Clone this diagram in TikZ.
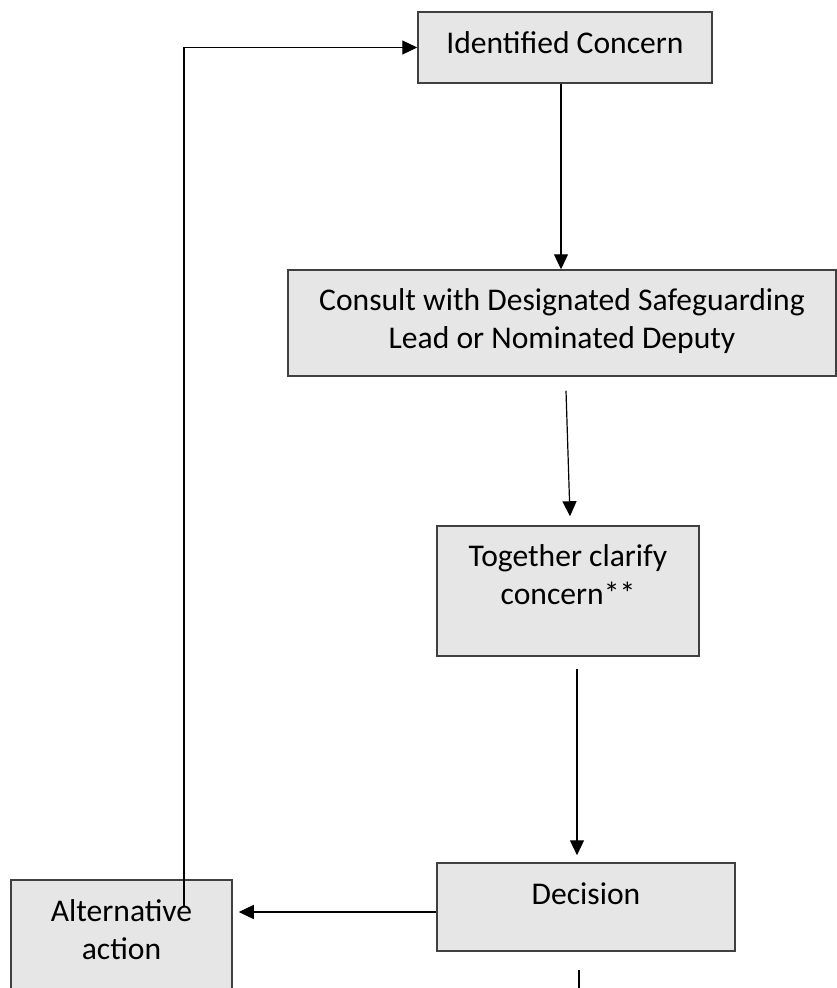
\documentclass[tikz,border=0pt]{standalone}
\usepackage{fontspec}
\setmainfont{Carlito}
\usetikzlibrary{arrows.meta}

\definecolor{boxfill}{RGB}{230,230,230}
\definecolor{boxline}{RGB}{64,64,64}

\tikzset{
  flowbox/.style = {draw = boxline, fill = boxfill, line width = 1.5pt, inner sep = 0pt},
  flowtext/.style = {font = \fontsize{31.6}{38}\selectfont, align = center, inner sep = 0pt},
  flowarrow/.style = {line width = 1.2pt, -{Triangle[length = 15pt, width = 14pt]}}
}

\begin{document}
\begin{tikzpicture}[x = 1pt, y = -1pt]
	\clip (0,0) rectangle (837,988);
	% boxes
	\node [flowbox, minimum width = 294pt, minimum height = 71pt] (idc) at (565,47.5) {};
	\node [flowbox, minimum width = 548pt, minimum height = 106pt] (cons) at (562,323) {};
	\node [flowbox, minimum width = 262pt, minimum height = 130pt] (tog) at (568,591) {};
	\node [flowbox, minimum width = 298pt, minimum height = 88pt] (dec) at (586,907) {};
	\node [flowbox, minimum width = 221pt, minimum height = 130pt] (alt) at (121.5,945) {};
	% texts
	\node [flowtext] (idctext) at (565,43) {Identified Concern};
	\node [flowtext] (constext) at (562,321) {Consult with Designated Safeguarding\\Lead or Nominated Deputy};
	\node [flowtext] (togtext) at (568,575) {Together clarify\\concern**};
	\node [flowtext] (dectext) at (586,894) {Decision};
	\node [flowtext] (alttext) at (121.5,930) {Alternative\\action};
	% arrows
	\draw [flowarrow] ([xshift = -4pt]idc.south) -- ([xshift = -1pt]cons.north);
	\draw [flowarrow] ([xshift = 4pt, yshift = -14pt]cons.south) -- ([xshift = 2pt, yshift = 9pt]tog.north);
	\draw [flowarrow] ([xshift = 9pt, yshift = -12pt]tog.south) -- ([xshift = -9pt, yshift = 7pt]dec.north);
	\draw [flowarrow] ([yshift = -5pt]dec.west) -- ([xshift = 6pt, yshift = 33pt]alt.east);
	\draw [flowarrow] ([xshift = 62.5pt, yshift = -27pt]alt.north) |- (idc.west);
	%\draw (dec.south) -- ++(0,-30);
	\coordinate (decout) at (579,970);
	\coordinate (pageend) at (579,992);
	\draw [line width = 1.2pt] (decout) -- (pageend);
\end{tikzpicture}
\end{document}
